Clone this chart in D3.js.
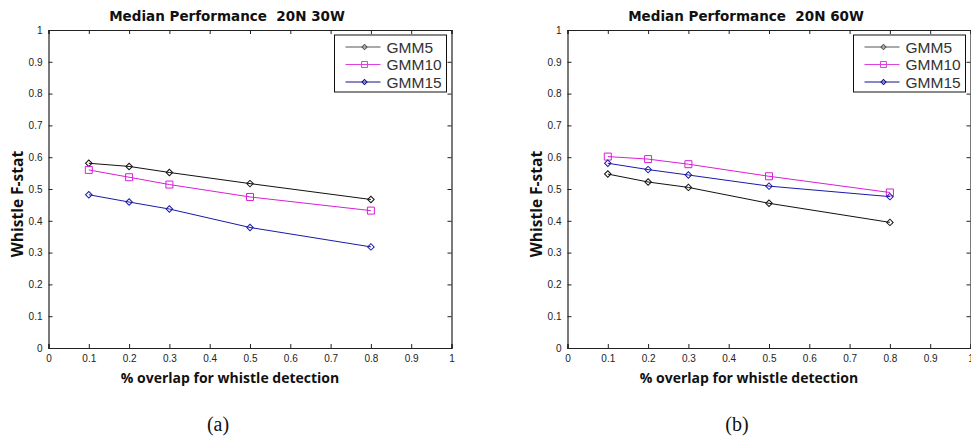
<!DOCTYPE html>
<html>
<head>
<meta charset="utf-8">
<script src="https://cdn.jsdelivr.net/npm/d3@7"></script>
<style>
  body { margin: 0; background: #fff; }
  svg { display: block; }
  .tick text { font-family: "Liberation Sans", Arial, sans-serif; font-size: 10px; fill: #222; }
  .domain, .tick line { stroke: #222; }
</style>
</head>
<body>
<script>
// overlap fractions on x
var overlap = [0.1, 0.2, 0.3, 0.5, 0.8];
var seriesNames = ["GMM5", "GMM10", "GMM15"];
var ticks = [0, 0.1, 0.2, 0.3, 0.4, 0.5, 0.6, 0.7, 0.8, 0.9, 1];

// 20N 30W
var a_gmm5 = [0.581, 0.571, 0.552, 0.517, 0.467];
var a_gmm10 = [0.560, 0.537, 0.514, 0.475, 0.432];
var a_gmm15 = [0.482, 0.459, 0.437, 0.379, 0.318];

// 20N 60W
var b_gmm5 = [0.547, 0.522, 0.505, 0.455, 0.395];
var b_gmm10 = [0.602, 0.594, 0.578, 0.540, 0.489];
var b_gmm15 = [0.581, 0.561, 0.544, 0.509, 0.476];

var colors = ["#111111", "#d81ed8", "#1a1aa8"];
var legendColors = ["#555555", "#e040e0", "#10108a"];
var markers = ["diamond", "square", "diamond"];

var svg = d3.select("body").append("svg")
  .attr("width", 971)
  .attr("height", 438);

function panel(left, right, title, caption, data) {
  var top = 30, bottom = 348;
  var x = d3.scaleLinear().domain([0, 1]).range([left, right]);
  var y = d3.scaleLinear().domain([0, 1]).range([bottom, top]);
  var g = svg.append("g");

  g.append("g").attr("transform", "translate(0," + bottom + ")")
    .call(d3.axisBottom(x).tickValues(ticks).tickFormat(d3.format("")).tickSize(-4).tickPadding(7));
  g.append("g").attr("transform", "translate(" + left + ",0)")
    .call(d3.axisLeft(y).tickValues(ticks).tickFormat(d3.format("")).tickSize(-4).tickPadding(6));
  g.append("g").attr("transform", "translate(0," + top + ")")
    .call(d3.axisTop(x).tickValues(ticks).tickFormat("").tickSize(-4));
  g.append("g").attr("transform", "translate(" + right + ",0)")
    .call(d3.axisRight(y).tickValues(ticks).tickFormat("").tickSize(-4));
  g.selectAll(".domain").attr("stroke-width", 1.2);

  var line = d3.line().x(d => x(d[0])).y(d => y(d[1]));
  data.forEach(function (vals, i) {
    var pts = overlap.map((o, j) => [o, vals[j]]);
    g.append("path").attr("d", line(pts))
      .attr("fill", "none").attr("stroke", colors[i]).attr("stroke-width", 1);
    g.selectAll(null).data(pts).enter().append("path")
      .attr("transform", d => "translate(" + x(d[0]) + "," + y(d[1]) + ")" + (markers[i] == "diamond" ? " rotate(45)" : ""))
      .attr("d", markers[i] == "square" ? "M-3.5,-3.5H3.5V3.5H-3.5Z" : "M-2.3,-2.3H2.3V2.3H-2.3Z")
      .attr("fill", "none").attr("stroke", colors[i]).attr("stroke-width", 1);
  });

  // legend
  var lx = right - 117, ly = 35;
  g.append("rect").attr("x", lx).attr("y", ly).attr("width", 112).attr("height", 57)
    .attr("fill", "#fff").attr("stroke", "#111").attr("stroke-width", 1);
  seriesNames.forEach(function (n, i) {
    var yy = ly + 12 + i * 17.5;
    g.append("line").attr("x1", lx + 11).attr("x2", lx + 46).attr("y1", yy).attr("y2", yy)
      .attr("stroke", legendColors[i]).attr("stroke-width", 1);
    g.append("path")
      .attr("transform", "translate(" + (lx + 30) + "," + yy + ")" + (markers[i] == "diamond" ? " rotate(45)" : ""))
      .attr("d", markers[i] == "square" ? "M-3,-3H3V3H-3Z" : "M-1.8,-1.8H1.8V1.8H-1.8Z")
      .attr("fill", "none").attr("stroke", legendColors[i]);
    g.append("text").attr("x", lx + 52).attr("y", yy + 5.5)
      .attr("font-family", "Liberation Sans, Arial, sans-serif").attr("font-size", 15.5)
      .attr("fill", "#333").text(n);
  });

  var cx = (left + right) / 2;
  g.append("text").attr("x", cx - 23).attr("y", 21).attr("text-anchor", "middle")
    .attr("font-family", "DejaVu Sans, sans-serif").attr("font-weight", "bold").attr("font-size", 13.5)
    .attr("fill", "#111").attr("xml:space", "preserve").text(title);
  g.append("text").attr("x", cx - 20).attr("y", 383).attr("text-anchor", "middle")
    .attr("font-family", "Open Sans, sans-serif").attr("font-weight", "bold").attr("font-size", 14)
    .attr("fill", "#111").text("% overlap for whistle detection");
  g.append("text").attr("transform", "translate(" + (left - 26) + ",204) rotate(-90)")
    .attr("text-anchor", "middle")
    .attr("font-family", "Open Sans, sans-serif").attr("font-weight", "bold").attr("font-size", 15.5)
    .attr("fill", "#111").text("Whistle F-stat");
  g.append("text").attr("x", cx - 32).attr("y", 431).attr("text-anchor", "middle")
    .attr("font-family", "Liberation Serif, DejaVu Serif, serif").attr("font-size", 20)
    .attr("fill", "#111").text(caption);
}

panel(48.5, 451.5, "Median Performance  20N 30W", "(a)", [a_gmm5, a_gmm10, a_gmm15]);
panel(567.5, 970.5, "Median Performance  20N 60W", "(b)", [b_gmm5, b_gmm10, b_gmm15]);
</script>
</body>
</html>
